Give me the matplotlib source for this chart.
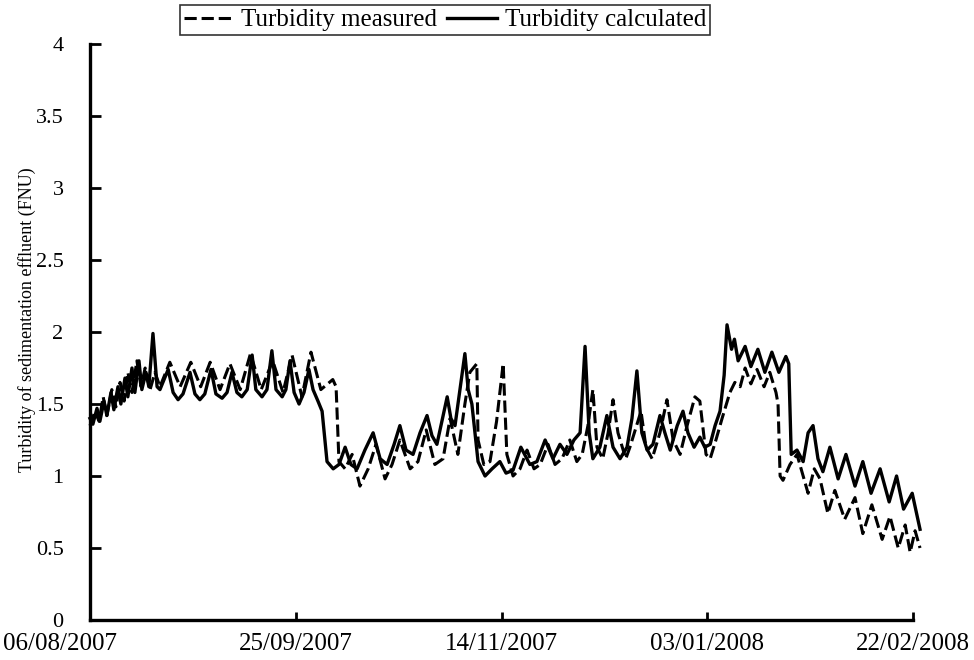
import matplotlib
matplotlib.use('Agg')
import matplotlib.pyplot as plt
import matplotlib.transforms as mtransforms

plt.rcParams['font.family'] = ['Liberation Serif', 'DejaVu Serif']

# days after 06/08/2007
calc_days = [0, 0.7, 1.7, 2.4, 3.4, 4.1, 5.1, 5.8, 6.8, 7.5, 8.5, 9.2, 10.2, 10.9, 11.9, 12.6,
             13.6, 14.3, 15.3, 16.3, 17.0, 19.0, 20.2, 21.4, 22.6, 24.3, 25.5, 26.7, 27.9, 29.4,
             30.6, 32.1, 33.3, 34.5, 35.7, 36.9, 38.2, 39.4, 40.3, 41.8, 43.0, 44.2, 45.2, 46.7,
             47.6, 48.6, 49.6, 50.8, 52.0, 53.2, 54.2, 55.4, 56.4, 57.6, 59.1, 60.5, 62.0, 63.4,
             64.9, 66.8, 68.8, 70.5, 72.2, 73.9, 75.3, 76.8, 78.5, 80.2, 81.9, 83.1, 84.3, 85.5,
             86.8, 87.7, 88.7, 89.9, 91.1, 91.9, 92.8, 94.3, 96.0, 97.7, 99.6, 101.1, 102.8, 104.7,
             106.9, 108.6, 110.6, 112.5, 114.2, 115.9, 117.6, 119.1, 120.3, 121.3, 122.2, 123.9,
             125.6, 127.1, 128.8, 130.5, 131.7, 132.9, 134.1, 135.4, 136.8, 138.5, 139.7, 141.0,
             142.7, 144.1, 145.3, 146.8, 148.2, 149.4, 150.7, 151.9, 153.1, 154.1, 154.8, 155.9,
             156.6, 157.5, 159.2, 160.6, 162.3, 164.0, 165.7, 167.4, 169.1, 169.8, 170.4, 171.8,
             173.3, 174.5, 175.7, 176.9, 178.1, 179.8, 181.8, 183.7, 185.9, 187.8, 189.8, 192.0,
             194.2, 196.0, 197.7, 199.8, 201.7]
calc_vals = [1.40, 1.36, 1.47, 1.38, 1.52, 1.42, 1.58, 1.46, 1.62, 1.50, 1.68, 1.55, 1.75, 1.58, 1.80, 1.60,
             1.72, 1.62, 1.99, 1.62, 1.60, 1.74, 1.58, 1.53, 1.57, 1.72, 1.57, 1.53, 1.57, 1.74,
             1.57, 1.54, 1.58, 1.72, 1.58, 1.55, 1.60, 1.84, 1.60, 1.55, 1.60, 1.87, 1.60, 1.55,
             1.60, 1.80, 1.58, 1.50, 1.58, 1.74, 1.60, 1.52, 1.45, 1.10, 1.05, 1.08, 1.20, 1.08,
             1.05, 1.18, 1.30, 1.12, 1.08, 1.22, 1.35, 1.18, 1.15, 1.30, 1.42, 1.28, 1.22, 1.38,
             1.55, 1.40, 1.35, 1.60, 1.85, 1.60, 1.50, 1.10, 1.00, 1.05, 1.10, 1.02, 1.04, 1.20,
             1.08, 1.10, 1.25, 1.12, 1.22, 1.15, 1.25, 1.30, 1.90, 1.30, 1.12, 1.20,
             1.42, 1.20, 1.12, 1.20, 1.40, 1.73, 1.30, 1.18, 1.22, 1.42, 1.30, 1.18,
             1.35, 1.45, 1.30, 1.20, 1.27, 1.20, 1.22, 1.35, 1.45, 1.70, 2.05, 1.88,
             1.95, 1.80, 1.90, 1.76, 1.88, 1.72, 1.86, 1.72, 1.83, 1.78, 1.15, 1.18,
             1.10, 1.30, 1.35, 1.12, 1.03, 1.20, 0.98, 1.15, 0.93, 1.10, 0.88, 1.05,
             0.82, 1.00, 0.77, 0.88, 0.63]

meas_days = [0, 1.2, 2.2, 3.2, 4.1, 5.3, 6.3, 7.3, 8.3, 9.2, 10.2, 11.4, 12.4, 13.4, 14.6, 15.8,
             17.0, 19.4, 21.9, 24.5, 26.9, 29.2, 31.6, 34.0, 36.5, 39.0, 41.6, 44.4, 46.9, 49.1,
             51.5, 53.7, 56.1, 59.0, 59.8, 60.5, 62.0, 63.7, 65.6, 67.6, 69.5, 71.7, 73.4, 75.3,
             77.8, 79.7, 81.7, 83.8, 85.8, 87.5, 89.4, 91.1, 92.3, 94.0, 94.3, 95.7, 97.2, 98.8,
             100.4, 101.3, 102.8, 104.5, 106.2, 107.9, 109.4, 111.3, 113.0, 114.7, 116.6, 118.3,
             119.6, 121.0, 122.2, 123.2, 124.6, 125.9, 127.1, 128.3, 130.2, 131.2, 133.9, 135.1,
             136.6, 138.5, 140.2, 141.7, 143.4, 145.1, 147.0, 148.2, 149.7, 150.7, 152.1, 153.6,
             155.5, 156.7, 158.0, 159.2, 160.6, 162.1, 163.8, 165.2, 166.7, 167.2, 167.7, 168.4,
             170.1, 171.8, 173.3, 174.5, 176.0, 177.4, 179.3, 181.0, 183.4, 185.9, 187.8, 190.0,
             192.5, 194.4, 196.4, 198.1, 199.3, 200.5, 201.7]
meas_vals = [1.35, 1.45, 1.38, 1.55, 1.42, 1.60, 1.48, 1.65, 1.52, 1.72, 1.58, 1.80, 1.62, 1.75, 1.60, 1.72,
             1.62, 1.79, 1.62, 1.79, 1.62, 1.79, 1.60, 1.78, 1.60, 1.85, 1.60, 1.80, 1.58, 1.84,
             1.55, 1.86, 1.60, 1.67, 1.62, 1.10, 1.05, 1.15, 0.93, 1.05, 1.22, 0.98, 1.08, 1.25,
             1.05, 1.10, 1.32, 1.08, 1.12, 1.40, 1.15, 1.50, 1.72, 1.78, 1.25, 1.08, 1.10, 1.38,
             1.78, 1.15, 1.00, 1.05, 1.18, 1.05, 1.08, 1.22, 1.08, 1.12, 1.25, 1.10,
             1.15, 1.35, 1.60, 1.20, 1.12, 1.30, 1.53, 1.30, 1.12, 1.20, 1.45, 1.20,
             1.12, 1.30, 1.53, 1.25, 1.15, 1.35, 1.55, 1.52, 1.15, 1.12, 1.25, 1.40,
             1.58, 1.65, 1.62, 1.75, 1.64, 1.74, 1.62, 1.72, 1.58, 1.50, 1.00, 0.97,
             1.08, 1.15, 1.00, 0.88, 1.05, 0.98, 0.74, 0.90, 0.70, 0.85, 0.60, 0.80,
             0.56, 0.72, 0.50, 0.66, 0.47, 0.62, 0.50]

tick_days = [0, 50, 100, 150, 200]
tick_labels = ['06/08/2007', '25/09/2007', '14/11/2007', '03/01/2008', '22/02/2008']
y_ticks = [0, 0.5, 1, 1.5, 2, 2.5, 3, 3.5, 4]
y_labels = ['0', '0.5', '1', '1.5', '2', '2.5', '3', '3.5', '4']

fig = plt.figure(figsize=(9.74, 6.6), dpi=100)
ax = fig.add_axes([0.0924, 0.0606, 0.8450, 0.8727])

ax.plot(meas_days, meas_vals, color='black', lw=2.2, ls=(0, (4, 1.6)),
        label='Turbidity measured', clip_on=False)
ax.plot(calc_days, calc_vals, color='black', lw=2.4, label='Turbidity calculated',
        clip_on=False)

ax.set_xlim(0, 200)
ax.set_ylim(0, 4)
ax.set_xticks(tick_days)
ax.set_xticklabels(tick_labels, fontsize=18)
ax.set_yticks(y_ticks)
ax.set_yticklabels(y_labels, fontsize=16)
ax.tick_params(axis='x', direction='in', length=6, width=2, pad=9)
ax.tick_params(axis='y', direction='in', length=8, width=2, pad=19)

# first date label sits left of its tick in the original
lab0 = ax.get_xticklabels()[0]
lab0.set_transform(lab0.get_transform() + mtransforms.ScaledTranslation(-30/100, 0, fig.dpi_scale_trans))

for s in ['top', 'right']:
    ax.spines[s].set_visible(False)
for s in ['left', 'bottom']:
    ax.spines[s].set_linewidth(2.4)

fig.text(27/974, 1 - 320/660, 'Turbidity of sedimentation effluent (FNU)', rotation=90,
         ha='center', va='center', fontsize=13)

leg = fig.legend(loc='upper center', bbox_to_anchor=(445/974, 1 - 5/660), ncol=2,
                 fontsize=18, frameon=True, fancybox=False, edgecolor='black',
                 handlelength=2.0, handletextpad=0.3, columnspacing=0.4, borderpad=0.15,
                 borderaxespad=0)
leg.get_frame().set_linewidth(1.2)

fig.savefig('out.png', dpi=100)
